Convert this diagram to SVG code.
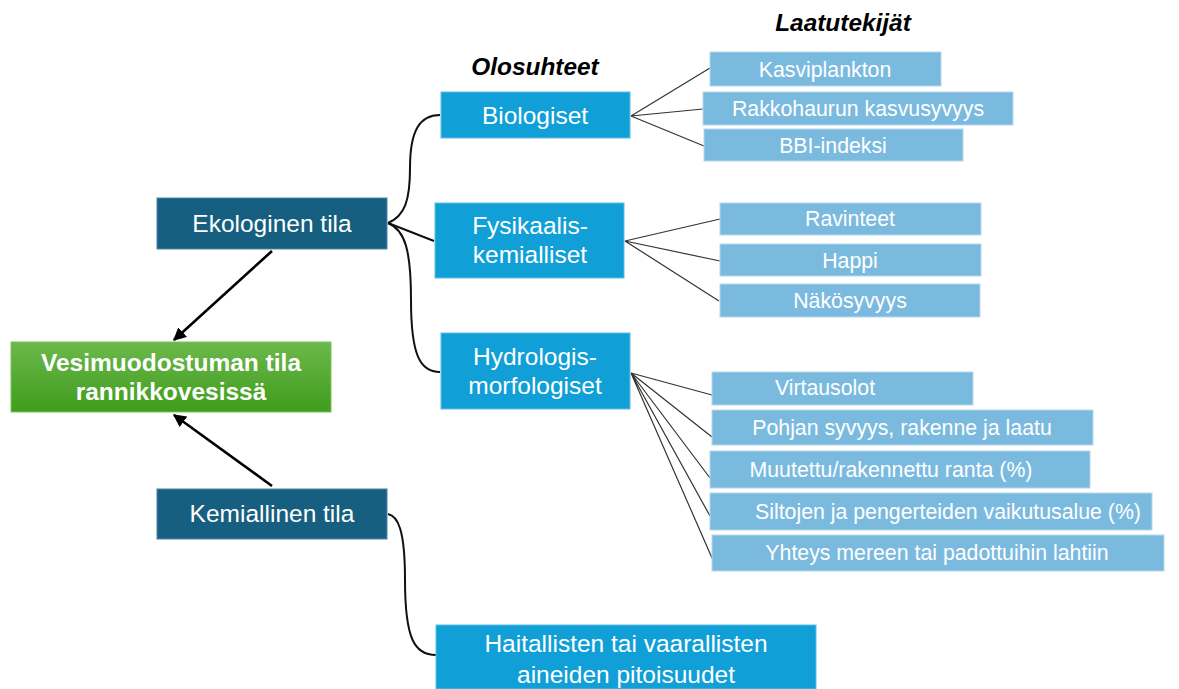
<svg xmlns="http://www.w3.org/2000/svg" width="1179" height="689" viewBox="0 0 1179 689">
<style>
text{font-family:"Liberation Sans",Arial,sans-serif;fill:#fff;text-anchor:middle}
.dark{fill:#165f80;stroke:#4a86a3;stroke-width:1}
.mid{fill:#119fd7;stroke:#5cbde6;stroke-width:1}
.leaf{fill:#7bbadf;stroke:#b5d8ee;stroke-width:1}
.t22{font-size:24.5px}
.t20{font-size:21.3px}
.hdr{font-size:24.4px;font-weight:bold;font-style:italic;fill:#000}
.thin{fill:none;stroke:#333;stroke-width:1.2}
.brace{fill:none;stroke:#111;stroke-width:2}
.arr{fill:none;stroke:#000;stroke-width:2.6;marker-end:url(#ah)}
</style>
<defs>
<linearGradient id="g" x1="0" y1="0" x2="0" y2="1">
<stop offset="0" stop-color="#6cb84c"/><stop offset="1" stop-color="#3f9d1c"/>
</linearGradient>
<marker id="ah" viewBox="0 0 10 10" refX="9" refY="5" markerWidth="5" markerHeight="5" orient="auto" markerUnits="strokeWidth">
<path d="M0,0 L10,5 L0,10 z" fill="#000"/>
</marker>
</defs>
<text class="hdr" x="843" y="31">Laatutekijät</text>
<text class="hdr" x="535" y="75">Olosuhteet</text>
<g id="connectors">
<path class="arr" d="M272,251 L174,340"/>
<path class="arr" d="M272,486 L174,415"/>
<path class="brace" d="M388,223 C405,216 410,200 410,168 C410,130 420,115 440,115"/>
<path class="brace" d="M388,223 L434,241"/>
<path class="brace" d="M388,223 C405,230 411,250 411,300 C411,355 420,372 440,372"/>
<path class="brace" d="M388,514 C398,516 405,530 405,580 C405,640 415,655 436,655"/>
<path class="thin" d="M631,116 L710,68 M631,116 L703,109 M631,116 L704,146"/>
<path class="thin" d="M625,241 L720,219 M625,241 L720,261 M625,241 L719,301"/>
<path class="thin" d="M631,373 L712,395 M631,373 L712,437 M631,373 L710,478 M631,373 L710,516 M631,373 L712,558"/>
</g>
<g id="ekologinen"><rect class="dark" x="157" y="198" width="230" height="51"/><text class="t22" x="272" y="232">Ekologinen tila</text></g>
<g id="vesimuodostuma"><rect x="11" y="342" width="320" height="70" fill="url(#g)" stroke="#7cc45c" stroke-width="1"/><text x="171" y="371" font-size="24.5" font-weight="bold">Vesimuodostuman tila</text><text x="171" y="400" font-size="24.5" font-weight="bold">rannikkovesissä</text></g>
<g id="kemiallinen"><rect class="dark" x="157" y="489" width="230" height="50"/><text class="t22" x="272" y="522">Kemiallinen tila</text></g>
<g id="biologiset"><rect class="mid" x="441" y="92" width="189" height="46"/><text class="t22" x="535" y="124">Biologiset</text></g>
<g id="fysikaalis"><rect class="mid" x="435" y="203" width="189" height="75"/><text class="t22" x="530" y="234">Fysikaalis-</text><text class="t22" x="530" y="263">kemialliset</text></g>
<g id="hydrologis"><rect class="mid" x="441" y="333" width="189" height="76"/><text class="t22" x="535" y="365">Hydrologis-</text><text class="t22" x="535" y="394">morfologiset</text></g>
<g id="haitallisten"><rect class="mid" x="436" y="625" width="380" height="64"/><text class="t22" x="626" y="652">Haitallisten tai vaarallisten</text><text class="t22" x="626" y="683">aineiden pitoisuudet</text></g>
<g id="kasviplankton"><rect class="leaf" x="710" y="52" width="231" height="34"/><text class="t20" x="825" y="77">Kasviplankton</text></g>
<g id="rakkohaurun"><rect class="leaf" x="703" y="92" width="310" height="33"/><text class="t20" x="858" y="116">Rakkohaurun kasvusyvyys</text></g>
<g id="bbi"><rect class="leaf" x="704" y="129" width="259" height="32"/><text class="t20" x="833" y="153">BBI-indeksi</text></g>
<g id="ravinteet"><rect class="leaf" x="720" y="203" width="261" height="32"/><text class="t20" x="850" y="226">Ravinteet</text></g>
<g id="happi"><rect class="leaf" x="720" y="244" width="261" height="32"/><text class="t20" x="850" y="268">Happi</text></g>
<g id="nakosyvyys"><rect class="leaf" x="720" y="284" width="260" height="33"/><text class="t20" x="850" y="308">Näkösyvyys</text></g>
<g id="virtausolot"><rect class="leaf" x="712" y="372" width="261" height="33"/><text class="t20" x="825" y="395">Virtausolot</text></g>
<g id="pohjan"><rect class="leaf" x="712" y="410" width="381" height="35"/><text class="t20" x="902" y="435">Pohjan syvyys, rakenne ja laatu</text></g>
<g id="muutettu"><rect class="leaf" x="710" y="451" width="380" height="37"/><text class="t20" x="891" y="477">Muutettu/rakennettu ranta (%)</text></g>
<g id="siltojen"><rect class="leaf" x="710" y="493" width="442" height="37"/><text class="t20" x="948" y="519">Siltojen ja pengerteiden vaikutusalue (%)</text></g>
<g id="yhteys"><rect class="leaf" x="712" y="535" width="452" height="36"/><text class="t20" x="937" y="560">Yhteys mereen tai padottuihin lahtiin</text></g>
</svg>
